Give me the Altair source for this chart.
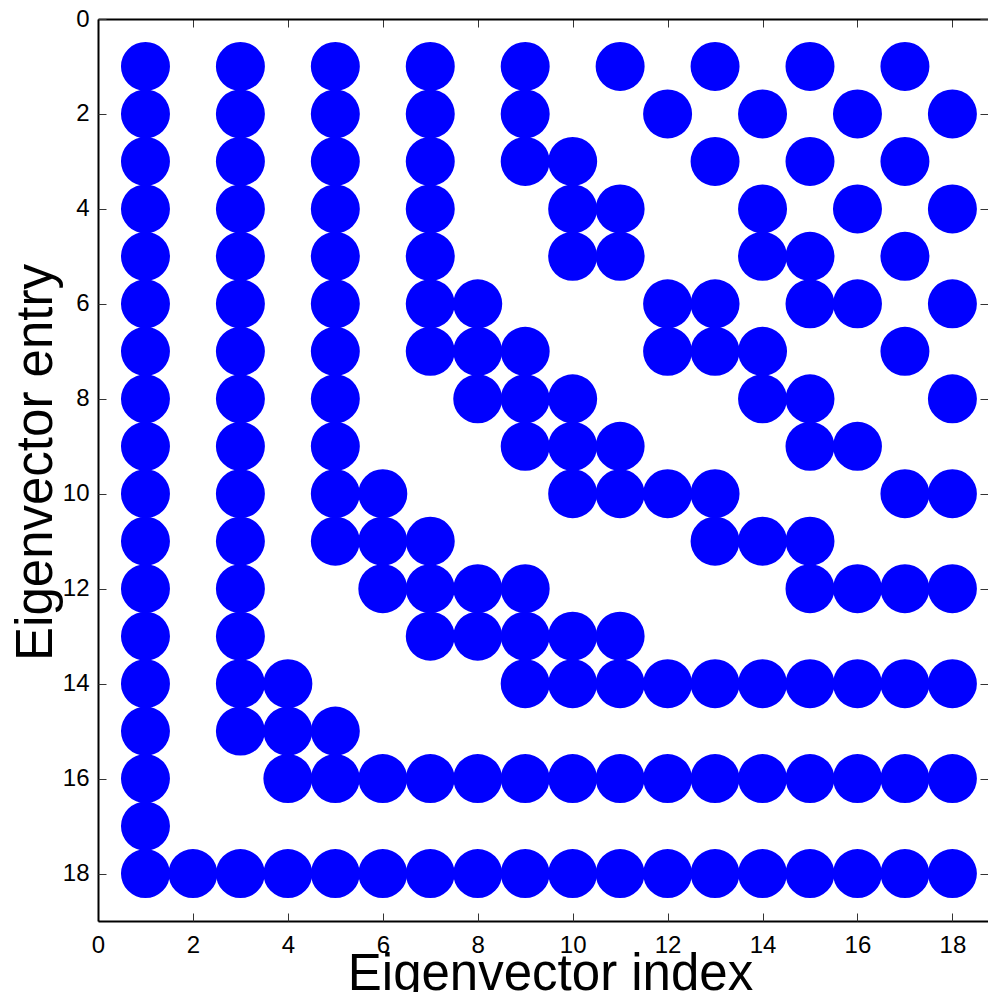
import altair as alt
import pandas as pd

# Non-zero entries (row numbers) of each eigenvector (column index)
col_01 = [1, 2, 3, 4, 5, 6, 7, 8, 9, 10, 11, 12, 13, 14, 15, 16, 17, 18]
col_02 = [18]
col_03 = [1, 2, 3, 4, 5, 6, 7, 8, 9, 10, 11, 12, 13, 14, 15, 18]
col_04 = [14, 15, 16, 18]
col_05 = [1, 2, 3, 4, 5, 6, 7, 8, 9, 10, 11, 15, 16, 18]
col_06 = [10, 11, 12, 16, 18]
col_07 = [1, 2, 3, 4, 5, 6, 7, 11, 12, 13, 16, 18]
col_08 = [6, 7, 8, 12, 13, 16, 18]
col_09 = [1, 2, 3, 7, 8, 9, 12, 13, 14, 16, 18]
col_10 = [3, 4, 5, 8, 9, 10, 13, 14, 16, 18]
col_11 = [1, 4, 5, 9, 10, 13, 14, 16, 18]
col_12 = [2, 6, 7, 10, 14, 16, 18]
col_13 = [1, 3, 6, 7, 10, 11, 14, 16, 18]
col_14 = [2, 4, 5, 7, 8, 11, 14, 16, 18]
col_15 = [1, 3, 5, 6, 8, 9, 11, 12, 14, 16, 18]
col_16 = [2, 4, 6, 9, 12, 14, 16, 18]
col_17 = [1, 3, 5, 7, 10, 12, 14, 16, 18]
col_18 = [2, 4, 6, 8, 10, 12, 14, 16, 18]

columns = [col_01, col_02, col_03, col_04, col_05, col_06, col_07, col_08, col_09,
           col_10, col_11, col_12, col_13, col_14, col_15, col_16, col_17, col_18]

tick_values = [0, 2, 4, 6, 8, 10, 12, 14, 16, 18]

rows = []
for i, col in enumerate(columns, start=1):
    for e in col:
        rows.append({"index": i, "entry": e})
df = pd.DataFrame(rows)

FONT = "Liberation Sans"
xs = alt.Scale(domain=[0, 18.75], nice=False, zero=False)
ys = alt.Scale(domain=[0, 19], nice=False, zero=False, reverse=True)

base = alt.Chart(df)

x_main = alt.Axis(orient="bottom", values=tick_values, ticks=False, tickSize=0,
                  domain=True, domainColor="black", domainWidth=2, grid=False,
                  labelFontSize=24, labelFont=FONT, labelColor="black",
                  labelPadding=12, labelFlush=False, labelOverlap=False,
                  title="Eigenvector index", titleFont=FONT, titleFontSize=51,
                  titleFontWeight="normal", titleColor="black",
                  titleBaseline="alphabetic", titleAlign="center",
                  titleX=452, titleY=68)
y_main = alt.Axis(orient="left", values=tick_values, ticks=False, tickSize=0,
                  domain=True, domainColor="black", domainWidth=2, grid=False,
                  labelFontSize=24, labelFont=FONT, labelColor="black",
                  labelPadding=9, labelFlush=False, labelOverlap=False,
                  title="Eigenvector entry", titleFont=FONT, titleFontSize=51,
                  titleFontWeight="normal", titleColor="black",
                  titleBaseline="alphabetic", titleAlign="center",
                  titleAngle=270, titleX=-47, titleY=443)

points = base.mark_circle(size=2400, color="#0000ff", opacity=1).encode(
    x=alt.X("index:Q", scale=xs, axis=x_main),
    y=alt.Y("entry:Q", scale=ys, axis=y_main),
)


def tick_axis(orient):
    return alt.Axis(orient=orient, offset=-8, values=tick_values, ticks=True,
                    tickSize=8, tickColor="#333333", tickWidth=1, labels=False,
                    domain=False, grid=False, title=None)


ticks_bl = base.mark_circle(size=1, opacity=0).encode(
    x=alt.X("index:Q", scale=xs, axis=tick_axis("bottom")),
    y=alt.Y("entry:Q", scale=ys, axis=tick_axis("left")),
)
ticks_tr = base.mark_circle(size=1, opacity=0).encode(
    x=alt.X("index:Q", scale=xs, axis=tick_axis("top")),
    y=alt.Y("entry:Q", scale=ys, axis=tick_axis("right")),
)
top_frame = base.mark_circle(size=1, opacity=0).encode(
    x=alt.X("index:Q", scale=xs,
            axis=alt.Axis(orient="top", ticks=False, labels=False, domain=True,
                          domainColor="black", domainWidth=2, grid=False,
                          title=None)),
    y=alt.Y("entry:Q", scale=ys, axis=None),
)

chart = (
    alt.layer(points, ticks_bl, ticks_tr, top_frame)
    .resolve_axis(x="independent", y="independent")
    .properties(
        width=890,
        height=902,
        autosize=alt.AutoSizeParams(type="none"),
        padding={"left": 90, "top": 11, "right": 0, "bottom": 71},
        background="white",
    )
    .configure_view(strokeWidth=0)
)

chart.save("out.html", embed_options={"renderer": "svg", "actions": False})
